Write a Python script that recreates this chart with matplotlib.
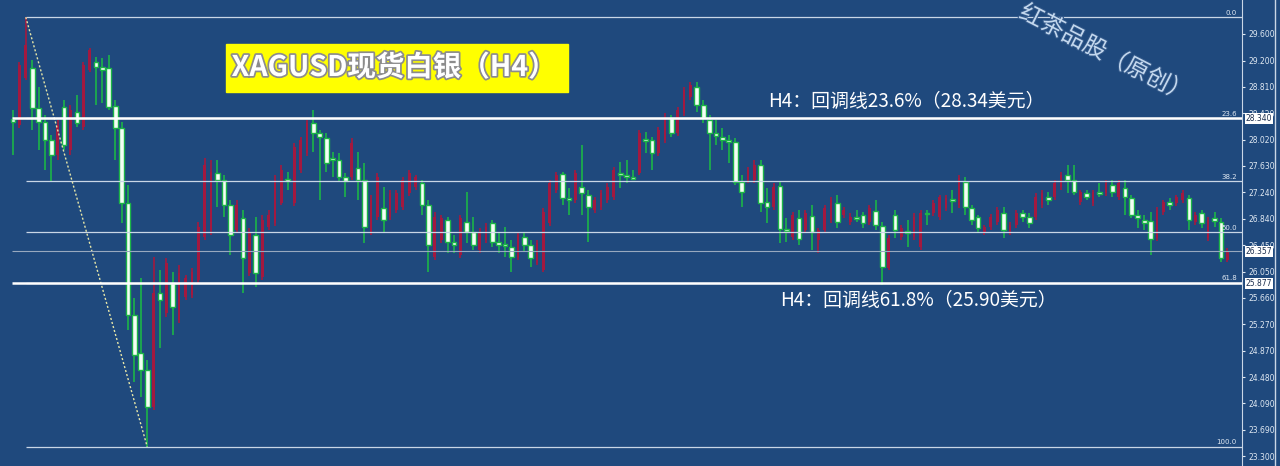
import matplotlib
matplotlib.use("Agg")
import matplotlib.pyplot as plt
import matplotlib.patheffects as pe
from matplotlib.patches import Rectangle
from matplotlib.lines import Line2D
import matplotlib.transforms as mtransforms

plt.rcParams['font.family'] = ['Noto Sans CJK SC', 'DejaVu Sans']

# H4 candles (price)
opens = [
    28.33, 28.24, 28.94, 29.09, 28.50, 28.29, 28.02, 27.79, 28.51, 27.87,
    28.44, 28.21, 29.06, 29.18, 29.11, 29.09, 28.53, 28.20, 27.08, 25.41,
    24.84, 24.58, 24.03, 25.73, 25.44, 25.88, 25.33, 25.67, 25.70, 25.93,
    26.57, 26.67, 27.53, 27.42, 27.05, 26.67, 26.85, 26.03, 26.60, 25.97,
    26.72, 26.78, 27.08, 27.42, 27.08, 27.57, 27.82, 28.27, 28.12, 28.05,
    27.75, 27.72, 27.47, 27.47, 27.60, 27.42, 26.63, 26.87, 27.00, 26.87,
    26.97, 27.02, 27.23, 27.32, 27.38, 27.05, 26.27, 26.53, 26.82, 26.50,
    26.30, 26.79, 26.64, 26.38, 26.53, 26.78, 26.50, 26.47, 26.42, 26.26,
    26.57, 26.45, 26.18, 26.08, 26.78, 27.27, 27.51, 27.15, 27.12, 27.32,
    27.20, 26.97, 27.02, 27.12, 27.17, 27.53, 27.50, 27.47, 27.53, 28.02,
    28.02, 27.82, 28.02, 28.35, 28.12, 28.42, 28.66, 28.81, 28.54, 28.32,
    28.12, 28.06, 28.02, 27.99, 27.39, 27.42, 27.42, 27.64, 27.09, 27.02,
    27.33, 26.69, 26.57, 26.85, 26.67, 26.88, 26.53, 26.67, 26.82, 27.08,
    26.90, 26.79, 26.85, 26.90, 26.79, 26.96, 26.73, 26.11, 26.90, 26.57,
    26.64, 26.57, 26.42, 26.93, 26.93, 26.87, 27.00, 27.12, 27.05, 27.39,
    27.00, 26.87, 26.63, 26.72, 26.79, 26.93, 26.64, 26.75, 26.93, 26.87,
    26.87, 27.05, 27.17, 27.17, 27.32, 27.50, 27.42, 27.09, 27.23, 27.08,
    27.23, 27.23, 27.35, 27.17, 27.30, 27.15, 26.90, 26.82, 26.81, 26.56,
    26.94, 27.09, 27.08, 27.12, 27.15, 26.79, 26.93, 26.56, 26.85, 26.79,
    26.23,
]
closes = [
    28.29, 29.14, 29.44, 28.50, 28.29, 28.02, 27.79, 28.24, 27.94, 28.47,
    28.27, 29.14, 29.36, 29.11, 29.06, 28.51, 28.20, 27.08, 25.41, 24.81,
    24.58, 24.03, 25.73, 25.63, 26.18, 25.53, 26.03, 25.96, 26.05, 26.72,
    27.64, 27.54, 27.42, 27.05, 26.60, 27.05, 26.26, 26.63, 26.03, 26.82,
    26.90, 27.42, 27.57, 27.41, 27.91, 28.02, 28.27, 28.12, 28.06, 27.67,
    27.72, 27.47, 27.41, 27.97, 27.42, 26.72, 27.12, 27.47, 26.82, 27.23,
    27.23, 27.42, 27.53, 27.47, 27.05, 26.45, 26.87, 26.85, 26.50, 26.45,
    26.85, 26.64, 26.45, 26.64, 26.72, 26.50, 26.45, 26.44, 26.27, 26.60,
    26.45, 26.26, 26.48, 26.94, 27.38, 27.50, 27.15, 27.12, 27.53, 27.23,
    27.02, 27.12, 27.23, 27.32, 27.57, 27.50, 27.47, 27.44, 28.12, 28.00,
    27.82, 28.17, 28.36, 28.12, 28.47, 28.76, 28.84, 28.54, 28.35, 28.12,
    28.08, 28.02, 27.99, 27.39, 27.24, 27.57, 27.64, 27.08, 27.02, 27.32,
    26.69, 26.66, 26.90, 26.54, 26.93, 26.64, 26.67, 27.00, 27.12, 26.79,
    26.97, 26.87, 26.84, 26.78, 27.00, 26.75, 26.12, 26.55, 26.67, 26.70,
    26.63, 26.87, 26.93, 26.91, 27.08, 27.17, 27.15, 27.11, 27.45, 27.02,
    26.82, 26.70, 26.72, 26.87, 26.97, 26.67, 26.75, 26.93, 26.87, 26.78,
    27.17, 27.23, 27.12, 27.38, 27.50, 27.42, 27.24, 27.24, 27.17, 27.24,
    27.21, 27.38, 27.24, 27.38, 27.17, 26.90, 26.85, 26.78, 26.54, 26.97,
    27.09, 27.05, 27.17, 27.23, 26.82, 26.90, 26.78, 26.82, 26.81, 26.26,
    26.36,
]
highs = [
    28.47, 29.18, 29.85, 29.21, 28.81, 28.39, 28.09, 28.32, 28.61, 28.54,
    28.69, 29.18, 29.39, 29.26, 29.24, 29.29, 28.61, 28.29, 27.35, 25.66,
    25.96, 24.73, 26.27, 26.08, 26.26, 26.05, 26.15, 26.00, 26.11, 26.79,
    27.75, 27.72, 27.72, 27.50, 27.12, 27.12, 26.97, 26.70, 26.87, 26.90,
    26.97, 27.50, 27.64, 27.54, 27.97, 28.06, 28.32, 28.47, 28.17, 28.12,
    27.84, 27.82, 27.53, 28.05, 27.84, 27.67, 27.20, 27.53, 27.32, 27.27,
    27.27, 27.47, 27.57, 27.50, 27.42, 27.12, 26.94, 26.90, 26.87, 26.60,
    26.90, 27.24, 26.87, 26.70, 26.78, 26.82, 26.64, 26.72, 26.53, 26.64,
    26.63, 26.53, 26.53, 27.00, 27.42, 27.54, 27.54, 27.30, 27.57, 27.94,
    27.27, 27.17, 27.27, 27.38, 27.61, 27.69, 27.72, 27.57, 28.17, 28.14,
    28.06, 28.21, 28.42, 28.39, 28.51, 28.81, 28.88, 28.88, 28.61, 28.39,
    28.32, 28.20, 28.09, 28.05, 27.50, 27.61, 27.72, 27.72, 27.30, 27.38,
    27.39, 26.85, 26.94, 26.97, 26.97, 27.05, 26.70, 27.05, 27.17, 27.20,
    27.02, 26.93, 26.97, 26.94, 27.05, 27.12, 26.79, 26.60, 26.97, 26.75,
    26.82, 26.93, 26.97, 26.97, 27.12, 27.20, 27.20, 27.27, 27.50, 27.47,
    27.05, 26.90, 26.75, 26.91, 27.02, 27.02, 26.79, 26.97, 26.97, 26.93,
    27.23, 27.27, 27.24, 27.42, 27.54, 27.64, 27.64, 27.27, 27.27, 27.27,
    27.38, 27.42, 27.42, 27.42, 27.42, 27.20, 26.97, 26.90, 26.94, 27.02,
    27.12, 27.15, 27.20, 27.27, 27.20, 26.94, 26.97, 26.87, 26.94, 26.85,
    26.41,
]
lows = [
    27.79, 28.20, 28.91, 28.17, 27.87, 27.57, 27.39, 27.72, 27.87, 27.79,
    28.21, 28.17, 29.03, 28.54, 28.57, 28.47, 27.72, 26.78, 25.18, 24.41,
    24.18, 23.44, 23.99, 24.91, 25.37, 25.11, 25.28, 25.63, 25.66, 25.88,
    26.53, 26.60, 27.02, 26.87, 26.30, 26.63, 25.73, 25.99, 25.82, 25.93,
    26.67, 26.73, 27.05, 27.27, 27.03, 27.53, 27.78, 27.84, 27.12, 27.54,
    27.47, 27.39, 27.17, 27.42, 27.12, 26.48, 26.60, 26.82, 26.64, 26.82,
    26.93, 26.97, 27.18, 27.27, 26.90, 26.05, 26.23, 26.48, 26.33, 26.33,
    26.26, 26.48, 26.38, 26.33, 26.48, 26.42, 26.33, 26.27, 26.05, 26.23,
    26.35, 26.12, 26.15, 26.05, 26.73, 27.23, 27.05, 26.90, 27.08, 26.90,
    26.50, 26.93, 26.97, 27.08, 27.12, 27.30, 27.38, 27.42, 27.49, 27.82,
    27.57, 27.78, 27.97, 28.06, 28.08, 28.38, 28.61, 28.44, 28.27, 27.57,
    27.94, 27.87, 27.67, 27.35, 27.02, 27.38, 27.38, 26.94, 26.78, 26.97,
    26.48, 26.50, 26.53, 26.45, 26.63, 26.38, 26.33, 26.63, 26.78, 26.70,
    26.85, 26.75, 26.79, 26.70, 26.75, 26.67, 25.85, 26.08, 26.56, 26.53,
    26.42, 26.53, 26.38, 26.75, 26.88, 26.82, 26.96, 26.93, 27.00, 26.90,
    26.75, 26.63, 26.60, 26.67, 26.75, 26.56, 26.60, 26.70, 26.79, 26.70,
    26.82, 27.00, 27.05, 27.12, 27.27, 27.23, 27.20, 27.05, 27.12, 27.03,
    27.17, 27.18, 27.17, 27.12, 26.90, 26.85, 26.70, 26.67, 26.30, 26.51,
    26.90, 26.97, 27.03, 27.08, 26.67, 26.75, 26.70, 26.51, 26.72, 26.20,
    26.20,
]

# fibonacci from the swing high (candle 2) to the swing low (candle 21)
fib_high = 29.85
fib_low = 23.44
fib_names = ['0.0', '23.6', '38.2', '50.0', '61.8', '100.0']
fib_levels = [29.85, 28.34, 27.40, 26.645, 25.89, 23.44]
swing_idx = [2, 21]

axis_ticks = [29.600, 29.200, 28.810, 28.420, 28.020, 27.630, 27.240, 26.840,
              26.450, 26.050, 25.660, 25.270, 24.870, 24.480, 24.090, 23.690, 23.300]
support_line = 25.877
resist_line = 28.340
last_price = 26.357

title = 'XAGUSD现货白银（H4）'
note_top = 'H4：回调线23.6%（28.34美元）'
note_bottom = 'H4：回调线61.8%（25.90美元）'
watermark = '红茶品股（原创）'

assert len(opens) == len(closes) == len(highs) == len(lows)

bg = '#1f497d'
red = '#a3193f'
green = '#1cb547'
light = '#c9d6e6'

fig = plt.figure(figsize=(12.8, 4.66), dpi=100, facecolor=bg)
ax = fig.add_axes([0, 0, 1242 / 1280, 1], facecolor=bg)

n = len(opens)
for i in range(n):
    o, c, h, l = opens[i], closes[i], highs[i], lows[i]
    if c > o:
        ax.vlines(i, l, h, color=red, lw=1.2, zorder=2)
        ax.bar(i, c - o, bottom=o, width=0.42, color=red, zorder=2)
    else:
        ax.vlines(i, l, h, color=green, lw=1.2, zorder=2)
        ax.bar(i, max(o - c, 0.025), bottom=c, width=0.74, color='#f4fff4',
               edgecolor=green, linewidth=1.0, zorder=3)

xmax = 192.3
ax.set_xlim(-2.03, xmax)
ax.set_ylim(30.107 - 466 / 67, 30.107)

# fib levels
for name, lvl in zip(fib_names, fib_levels):
    ax.hlines(lvl, swing_idx[0], xmax, color=light, lw=0.9, zorder=4)
    ax.text(191.5, lvl + 0.02, name, color='#dfe8f2', fontsize=5,
            ha='right', va='bottom', family='DejaVu Sans', zorder=5)
ax.plot(swing_idx, [fib_high, fib_low], color='#e6e6a8', lw=1, ls=(0, (1.5, 1.5)), zorder=4)

# horizontal lines
ax.hlines([resist_line, support_line], -0.2, xmax, color='white', lw=1.8, zorder=4)
ax.hlines(last_price, -0.2, xmax, color='#98a9bf', lw=0.8, zorder=4)

# right price scale
ax.yaxis.tick_right()
ax.set_yticks(axis_ticks)
ax.set_yticklabels([f'{t:.3f}' for t in axis_ticks])
ax.tick_params(axis='y', colors='#dfe8f2', labelsize=5.5, length=2.5, width=0.8, pad=2)
ax.tick_params(axis='x', bottom=False, labelbottom=False)
for s in ['left', 'top', 'bottom']:
    ax.spines[s].set_visible(False)
ax.spines['right'].set_color(light)
for lab in ax.get_yticklabels():
    lab.set_family('DejaVu Sans')

trans = mtransforms.blended_transform_factory(ax.transAxes, ax.transData)
for val in [resist_line, last_price, support_line]:
    ax.text(1.003, val, f'{val:.3f}', transform=trans, fontsize=5.5, color='#1a2d4d',
            va='center', ha='left', family='DejaVu Sans', zorder=6,
            bbox=dict(boxstyle='square,pad=0.15', fc='white', ec='none'))

fig.add_artist(Line2D([1275 / 1280, 1275 / 1280], [0, 1], color=light, lw=1))

# title box
fig.patches.append(Rectangle((226 / 1280, 1 - 92 / 466), 342 / 1280, 48 / 466,
                             transform=fig.transFigure, color='#ffff00', zorder=5))
fig.text(394 / 1280, 1 - 68 / 466, title, color='white', fontsize=20.5, fontweight='bold',
         ha='center', va='center', zorder=6,
         path_effects=[pe.withStroke(linewidth=2.5, foreground='#8c8c8c')])

fig.text(768 / 1280, 1 - 101 / 466, note_top, color='white', fontsize=13.6,
         ha='left', va='center')
fig.text(780 / 1280, 1 - 300 / 466, note_bottom, color='white', fontsize=13.6,
         ha='left', va='center')

fig.text(1105 / 1280, 1 - 54 / 466, watermark, color='#c4d8ee', fontsize=17,
         rotation=-27, rotation_mode='anchor', ha='center', va='center',
         path_effects=[pe.withStroke(linewidth=1.5, foreground='#33598a')])

fig.savefig('out.png', dpi=100, facecolor=bg)
